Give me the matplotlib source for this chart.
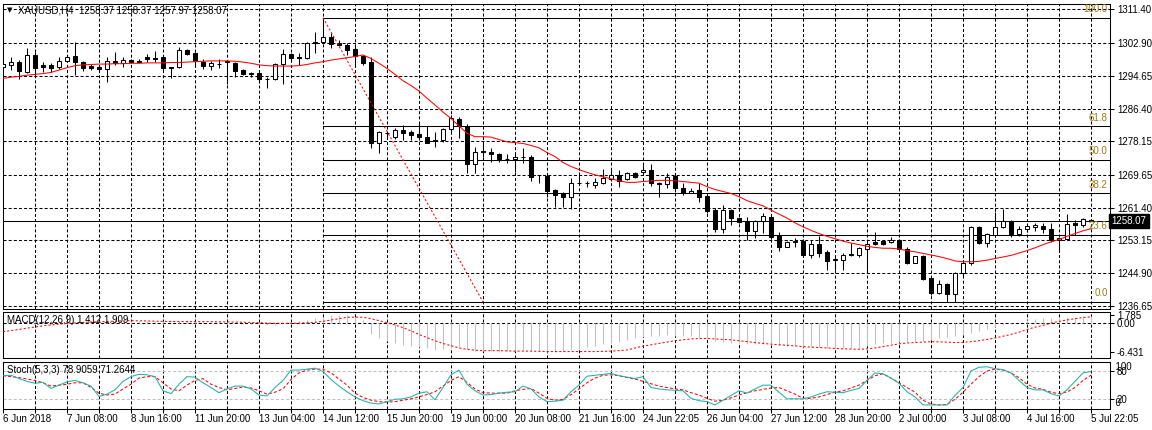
import matplotlib
matplotlib.use("Agg")
import matplotlib.pyplot as plt
from matplotlib.patches import Rectangle
import matplotlib.transforms as mtransforms

# ---------------- data ----------------
symbol_title = "XAUUSD,H4  1258.37 1258.37 1257.97 1258.07"
macd_title = "MACD(12,26,9) 1.412 1.909"
stoch_title = "Stoch(5,3,3) 78.9059 71.2644"

x_labels = ["6 Jun 2018", "7 Jun 08:00", "8 Jun 16:00", "11 Jun 20:00", "13 Jun 04:00",
            "14 Jun 12:00", "15 Jun 20:00", "19 Jun 00:00", "20 Jun 08:00", "21 Jun 16:00",
            "24 Jun 22:05", "26 Jun 04:00", "27 Jun 12:00", "28 Jun 20:00", "2 Jul 00:00",
            "3 Jul 08:00", "4 Jul 16:00", "5 Jul 22:05"]

price_ticks = [1311.40, 1302.90, 1294.65, 1286.40, 1278.15, 1269.65, 1261.40, 1253.15, 1244.90, 1236.65]

opens = [1296.9, 1297.3, 1298.1, 1295.7, 1300.0, 1297.3, 1297.4, 1296.8, 1298.5, 1299.6,
         1298.0, 1297.1, 1296.9, 1296.4, 1298.3, 1297.8, 1298.6, 1298.5, 1299.4, 1299.2,
         1299.4, 1296.9, 1296.8, 1301.1, 1300.3, 1298.2, 1297.2, 1297.7, 1298.3, 1297.8,
         1296.1, 1295.4, 1295.3, 1293.9, 1293.8, 1297.5, 1300.1, 1299.3, 1299.1, 1303.0,
         1303.1, 1304.3, 1303.0, 1302.4, 1301.4, 1299.6, 1298.1, 1277.6, 1280.3, 1279.1,
         1281.0, 1280.5, 1280.0, 1279.3, 1278.4, 1278.4, 1281.2, 1283.8, 1282.0, 1272.4,
         1275.6, 1275.5, 1274.9, 1273.8, 1273.8, 1274.3, 1274.3, 1269.6, 1269.4, 1265.9,
         1265.0, 1264.0, 1267.6, 1267.6, 1267.1, 1267.7, 1268.6, 1269.6, 1268.6, 1270.1,
         1270.3, 1270.8, 1267.6, 1267.3, 1269.4, 1266.3, 1265.2, 1265.9, 1264.4, 1260.8,
         1256.0, 1260.8, 1258.7, 1258.1, 1255.6, 1258.1, 1259.1, 1254.3, 1251.6, 1252.8,
         1252.9, 1249.5, 1252.3, 1250.3, 1248.3, 1248.2, 1249.7, 1249.5, 1251.0, 1252.7,
         1252.9, 1252.7, 1253.3, 1251.0, 1247.6, 1249.2, 1243.6, 1239.9, 1242.1, 1239.7,
         1245.0, 1247.55, 1256.6, 1252.6, 1254.5, 1256.6, 1258.1, 1254.7, 1256.0, 1256.5,
         1256.8, 1256.0, 1253.3, 1253.5, 1257.5, 1257.1, 1258.37]
highs = [1297.9, 1299.3, 1298.6, 1301.6, 1300.6, 1298.1, 1297.9, 1299.4, 1300.0, 1303.1,
         1298.4, 1297.5, 1297.4, 1299.5, 1300.6, 1299.3, 1298.9, 1298.8, 1300.1, 1300.9,
         1299.9, 1296.9, 1302.0, 1301.4, 1300.7, 1298.8, 1298.45, 1298.8, 1298.6, 1298.2,
         1296.3, 1295.7, 1295.9, 1294.4, 1297.8, 1301.3, 1300.3, 1300.3, 1303.1, 1305.6,
         1309.3, 1305.4, 1303.7, 1303.0, 1302.4, 1299.9, 1299.3, 1280.8, 1280.8, 1281.4,
         1282.3, 1281.0, 1282.8, 1282.0, 1280.6, 1281.4, 1284.7, 1284.2, 1282.5, 1276.8,
         1277.6, 1276.4, 1275.1, 1274.9, 1275.5, 1276.4, 1274.7, 1269.7, 1270.1, 1266.0,
         1265.4, 1268.8, 1270.5, 1268.2, 1268.8, 1271.1, 1270.9, 1270.9, 1270.5, 1270.3,
         1272.2, 1272.4, 1268.0, 1270.1, 1269.7, 1267.6, 1266.5, 1267.6, 1264.6, 1261.3,
         1262.1, 1261.0, 1259.1, 1259.1, 1258.3, 1260.0, 1259.3, 1255.4, 1253.1, 1253.7,
         1253.5, 1253.3, 1254.3, 1250.75, 1249.2, 1250.0, 1252.4, 1251.6, 1252.85, 1255.4,
         1253.3, 1254.1, 1253.45, 1251.6, 1249.3, 1249.5, 1243.8, 1243.2, 1242.4, 1245.3,
         1248.2, 1256.8, 1256.8, 1255.0, 1260.4, 1261.1, 1258.3, 1256.8, 1257.6, 1257.6,
         1257.6, 1257.5, 1253.7, 1259.8, 1258.3, 1258.75, 1258.37]
lows = [1296.4, 1296.1, 1293.8, 1295.3, 1294.9, 1295.7, 1295.7, 1296.3, 1298.2, 1294.9,
        1295.9, 1296.1, 1295.9, 1293.2, 1297.4, 1296.9, 1297.8, 1297.9, 1298.1, 1298.1,
        1296.1, 1294.0, 1296.5, 1299.9, 1296.9, 1296.4, 1296.1, 1296.5, 1292.7, 1294.4,
        1294.9, 1294.4, 1292.8, 1291.5, 1293.6, 1292.5, 1298.6, 1297.4, 1298.8, 1300.3,
        1303.1, 1301.6, 1302.2, 1299.9, 1297.2, 1297.4, 1276.5, 1275.3, 1278.7, 1278.7,
        1278.5, 1278.5, 1278.5, 1277.6, 1276.8, 1278.05, 1280.6, 1278.9, 1270.2, 1270.2,
        1274.3, 1273.0, 1273.0, 1272.8, 1270.3, 1272.6, 1268.2, 1267.6, 1264.2, 1261.7,
        1261.7, 1261.1, 1267.2, 1266.7, 1266.3, 1267.4, 1268.2, 1266.7, 1268.4, 1268.8,
        1269.9, 1266.9, 1264.2, 1266.3, 1265.4, 1264.6, 1265.0, 1262.9, 1260.0, 1255.4,
        1255.0, 1257.1, 1257.6, 1253.3, 1253.7, 1255.1, 1253.45, 1250.6, 1251.4, 1251.6,
        1249.5, 1248.7, 1249.1, 1245.7, 1245.7, 1245.7, 1249.2, 1248.9, 1245.3, 1252.0,
        1252.0, 1252.45, 1250.75, 1247.2, 1247.5, 1243.2, 1239.4, 1239.7, 1237.7, 1237.7,
        1243.9, 1247.0, 1252.25, 1251.6, 1254.1, 1256.2, 1254.1, 1254.3, 1255.4, 1255.6,
        1255.0, 1252.85, 1250.75, 1253.3, 1254.5, 1256.6, 1257.97]
closes = [1297.5, 1298.0, 1295.9, 1299.9, 1296.5, 1296.9, 1296.7, 1298.5, 1299.5, 1298.0,
          1296.5, 1296.5, 1296.3, 1298.3, 1297.8, 1298.6, 1298.2, 1298.2, 1298.9, 1298.9,
          1296.7, 1296.5, 1301.1, 1300.1, 1298.4, 1297.2, 1297.9, 1297.6, 1298.2, 1295.9,
          1295.1, 1295.2, 1293.8, 1293.8, 1297.5, 1300.1, 1299.1, 1299.2, 1302.8, 1303.1,
          1304.3, 1302.6, 1302.5, 1301.1, 1299.7, 1297.9, 1277.6, 1280.5, 1280.3, 1281.0,
          1280.2, 1279.8, 1279.1, 1277.8, 1278.3, 1281.2, 1283.9, 1282.0, 1272.4, 1275.5,
          1275.5, 1274.9, 1273.7, 1273.7, 1274.2, 1274.2, 1269.2, 1269.6, 1265.7, 1264.6,
          1264.0, 1267.6, 1267.7, 1267.7, 1268.0, 1268.8, 1269.6, 1268.2, 1270.1, 1269.1,
          1270.8, 1267.6, 1267.5, 1269.2, 1266.3, 1265.0, 1265.7, 1264.2, 1260.6, 1256.0,
          1260.8, 1258.7, 1257.9, 1255.6, 1258.1, 1259.3, 1254.1, 1251.6, 1252.8, 1252.9,
          1249.5, 1252.3, 1250.1, 1248.1, 1248.4, 1249.5, 1249.4, 1251.2, 1252.3, 1252.3,
          1252.3, 1253.3, 1250.9, 1247.6, 1249.25, 1243.5, 1239.9, 1242.1, 1239.7, 1245.0,
          1247.55, 1256.6, 1252.6, 1254.7, 1256.6, 1258.1, 1254.7, 1256.0, 1256.8, 1257.1,
          1256.0, 1253.3, 1253.7, 1257.3, 1257.1, 1258.5, 1258.07]

ma = [1294.0, 1294.3, 1294.5, 1294.8, 1295.0, 1295.2, 1295.5, 1296.1, 1296.7, 1297.2,
      1297.4, 1297.5, 1297.6, 1297.6, 1297.7, 1297.7, 1297.8, 1297.8, 1297.9, 1297.9,
      1297.9, 1298.0, 1298.0, 1298.1, 1298.2, 1298.3, 1298.4, 1298.4, 1298.4, 1298.3,
      1298.1, 1297.8, 1297.4, 1297.2, 1297.1, 1297.1, 1297.1, 1297.2, 1297.5, 1297.9,
      1298.2, 1298.6, 1298.9, 1299.2, 1299.5, 1299.9, 1299.0, 1297.8, 1296.5, 1295.0,
      1293.4, 1292.2, 1290.8, 1289.0, 1287.3, 1285.5, 1283.9, 1282.0, 1280.2, 1279.3,
      1279.3, 1279.2, 1278.6, 1278.0, 1277.8, 1277.6, 1277.1, 1276.5, 1275.3, 1274.3,
      1272.8, 1271.8, 1271.0, 1270.3, 1269.7, 1269.2, 1268.7, 1268.2, 1267.8, 1267.8,
      1268.0, 1268.2, 1268.3, 1268.3, 1268.2, 1268.0, 1267.8, 1267.6, 1266.7, 1266.0,
      1265.5, 1265.0, 1264.2, 1263.2, 1262.5, 1261.9, 1260.8, 1259.8, 1258.8, 1257.6,
      1256.6, 1255.7, 1254.9, 1254.2, 1253.6, 1253.0, 1252.5, 1252.1, 1251.7, 1251.4,
      1251.2, 1251.2, 1251.0, 1250.6, 1250.3, 1249.9, 1249.5, 1249.1, 1248.6, 1248.0,
      1247.8, 1247.8, 1247.9, 1248.2, 1248.6, 1249.0, 1249.4, 1250.0, 1250.6, 1251.3,
      1252.1, 1252.8, 1253.4, 1254.2, 1254.9, 1255.6, 1256.1]

bid = 1258.07
fib_start_bar, fib_end_bar = 40, 60
fib_high, fib_low = 1309.3, 1237.66
fib_levels = [0.0, 23.6, 38.2, 50.0, 61.8, 100.0]
fib_labels = ["0.0", "23.6", "38.2", "50.0", "61.8", "100.0"]

macd_main = [0.1, 0.2, 0.2, 0.4, 0.5, 0.4, 0.3, 0.3, 0.4, 0.4, 0.3, 0.2, 0.2, 0.2, 0.2, 0.2,
             0.3, 0.3, 0.4, 0.4, 0.3, 0.2, 0.4, 0.5, 0.4, 0.3, 0.2, 0.1, 0.0, -0.1, -0.2, -0.3,
             -0.5, -0.6, -0.4, -0.1, 0.2, 0.3, 0.7, 1.0, 1.3, 1.7, 1.785, 1.6, 1.3, 0.6,
             -2.4, -3.4, -4.0, -4.4, -4.9, -5.2, -5.3, -5.7, -6.0, -5.9,
             -5.6, -5.4, -5.9, -6.2, -6.3, -6.35, -6.4, -6.3, -6.2, -6.0, -6.1, -6.2, -6.4, -6.431, -6.3,
             -6.0, -5.7, -5.4, -5.1, -4.8, -4.5, -4.2, -3.9, -3.5, -3.2, -3.0, -2.9, -2.8, -2.9, -3.0, -3.0, -3.3,
             -3.7, -4.1, -4.2, -4.4, -4.5, -4.7, -4.7, -4.8, -4.9, -5.0, -5.1, -5.2, -5.3, -5.4, -5.5, -5.6, -5.7, -5.7, -5.7, -5.6,
             -5.2, -4.8, -4.5, -4.4, -4.3, -4.2, -4.2, -4.1, -3.8, -3.5, -3.2, -3.0, -2.7, -2.3, -1.9, -1.5,
             -1.0, -0.6, -0.2, 0.2, 0.5, 0.8, 1.0, 1.1, 1.1, 1.2, 1.3, 1.4, 1.412]
macd_signal = [-2.0, -1.75, -1.5, -1.2, -0.95, -0.7, -0.5, -0.3, -0.15, -0.05, 0.05, 0.15, 0.2, 0.28, 0.35, 0.4, 0.45,
               0.42, 0.38, 0.33, 0.3, 0.27, 0.25, 0.25, 0.25, 0.25, 0.23, 0.2, 0.18, 0.15, 0.1, 0.05, 0.0,
               -0.1, -0.12, -0.15, -0.12, -0.1, -0.02, 0.1, 0.3,
               0.6, 0.9, 1.2, 1.25, 1.2, 0.9, 0.45, 0.0, -0.5,
               -1.1, -1.8, -2.6, -3.3, -4.0, -4.6, -5.1, -5.6, -5.9,
               -6.1, -6.2, -6.2, -6.2, -6.25, -6.3, -6.3, -6.3, -6.35, -6.4, -6.4, -6.4, -6.4, -6.4, -6.4, -6.4, -6.35, -6.3, -6.2, -6.05,
               -5.6, -5.2, -4.9, -4.6, -4.3, -4.0, -3.8, -3.6, -3.5, -3.5, -3.6, -3.7,
               -3.8, -4.0, -4.2, -4.4, -4.6, -4.75, -4.9, -5.0, -5.15, -5.3, -5.4, -5.5, -5.6, -5.7, -5.8, -5.85, -5.9,
               -5.8, -5.6, -5.3, -5.0, -4.7, -4.5, -4.4, -4.3, -4.2, -4.25, -4.3, -4.4, -4.35, -4.2, -4.0, -3.7,
               -3.4, -3.0, -2.6, -2.1, -1.5, -1.0, -0.6, -0.1, 0.3, 0.6, 0.9, 1.15, 1.3]
macd_ticks = [1.785, 0.0, -6.431]
macd_tick_labels = ["1.785", "0.00", "-6.431"]

stoch_main = [70, 71, 64, 58, 54, 56, 43, 50, 57, 60, 55, 48, 26, 31, 40, 58, 68, 73, 72, 68,
              38, 32, 52, 68, 67, 55, 45, 34, 42, 48, 48, 42, 29, 27, 45, 60, 82, 82, 84, 86,
              79, 62, 48, 36, 25, 17, 12, 10, 15, 20, 21, 25, 33, 36, 19, 45, 72, 82, 52, 38,
              29, 30, 33, 35, 36, 48, 42, 25, 15, 16, 18, 36, 50, 69, 71, 73, 75, 70, 67, 64,
              68, 45, 42, 40, 39, 38, 22, 17, 15, 8, 18, 28, 38, 33, 42, 50, 50, 35, 21, 21,
              21, 25, 31, 36, 35, 34, 39, 43, 60, 76, 74, 65, 54, 36, 25, 8, 8, 8, 8, 28,
              45, 80, 88, 89, 85, 83, 76, 60, 45, 40, 40, 32, 27, 40, 58, 76, 78.9059]
stoch_signal = [70, 68, 66, 63, 60, 55, 48, 50, 52, 55, 55, 45, 33, 29, 31, 42, 52, 65, 68, 68,
                55, 42, 38, 50, 60, 64, 52, 45, 40, 43, 46, 44, 38, 31, 35, 42, 62, 76, 82, 84,
                84, 76, 63, 50, 33, 24, 18, 15, 14, 15, 18, 21, 25, 30, 36, 48, 60, 68, 56, 42,
                34, 33, 33, 33, 38, 41, 43, 33, 22, 18, 20, 30, 42, 55, 65, 71, 72, 70, 66, 63,
                58, 53, 48, 45, 42, 40, 34, 29, 22, 16, 18, 23, 29, 34, 38, 41, 44, 45, 38, 31,
                22, 22, 25, 30, 35, 38, 44, 50, 60, 70, 74, 65, 55, 45, 35, 18, 10, 8, 9, 20,
                35, 52, 68, 80, 84, 82, 76, 66, 52, 44, 41, 35, 32, 35.5, 45, 60, 71.2644]
stoch_levels = [20, 80]

# ---------------- layout ----------------
W, H = 1152, 430
FONT = ["Liberation Sans", "DejaVu Sans"]
plt.rcParams["font.family"] = FONT
plt.rcParams["font.size"] = 7
plt.rcParams["lines.scale_dashes"] = False

fig = plt.figure(figsize=(W / 100, H / 100), dpi=100)
fig.patch.set_facecolor("white")


def rect(x0, y0, x1, y1):
    return [x0 / W, 1 - y1 / H, (x1 - x0) / W, (y1 - y0) / H]


XL, XR = 2.5, 1110.0
ax = fig.add_axes(rect(XL, 3.5, XR, 308.5))
axm = fig.add_axes(rect(XL, 311.5, XR, 358.0))
axs = fig.add_axes(rect(XL, 361.6, XR, 408.7))

n = len(closes)
xs = list(range(n))
px_per_bar = 8.0
x0_px = 3.0
xlim = ((XL - x0_px) / px_per_bar, (XR - x0_px) / px_per_bar)

LW = 0.75
DASH = (0, (2.2, 1.5))

for a in (ax, axm, axs):
    a.set_xlim(*xlim)
    a.set_facecolor("white")
    for s in a.spines.values():
        s.set_linewidth(LW)
        s.set_color("black")
    a.tick_params(axis="y", which="both", left=False, right=True, labelleft=False,
                  labelright=True, length=3, width=LW, pad=2, labelsize=7, colors="black")
    a.tick_params(axis="x", which="both", bottom=False, top=False, labelbottom=False)
    for g in range(4, n + 2, 4):
        a.axvline(g, color="black", lw=LW, ls=DASH, zorder=0.5)

# main price axis scale
ppx = 3.969
y_top_px = 9.3
ax.set_ylim(1311.40 - (308.5 - y_top_px) / ppx, 1311.40 + (y_top_px - 3.5) / ppx)
ax.set_yticks(price_ticks)
ax.set_yticklabels([f"{p:.2f}" for p in price_ticks])
for p in price_ticks:
    ax.axhline(p, color="black", lw=LW, ls=DASH, zorder=0.5)

# candles
body_w = 0.62
for i in xs:
    o, h, l, c = opens[i], highs[i], lows[i], closes[i]
    ax.vlines(i, l, h, color="black", lw=LW, zorder=2)
    bot, top = min(o, c), max(o, c)
    fc = "white" if c >= o else "black"
    ax.add_patch(Rectangle((i - body_w / 2, bot), body_w, max(top - bot, 0.0001),
                           facecolor=fc, edgecolor="black", lw=LW, zorder=3))

# moving average
ax.plot(xs, ma, color="#ff0000", lw=LW, zorder=4)

# fibonacci
rng = fib_high - fib_low
for lev, lab in zip(fib_levels, fib_labels):
    yv = fib_low + rng * lev / 100.0
    ax.plot([fib_start_bar, xlim[1]], [yv, yv], color="black", lw=LW, zorder=2.5)
    ax.text(xlim[1] - 0.3, yv + 0.9, lab, ha="right", va="bottom", fontsize=7,
            color="#9c7a14", zorder=6)
ax.plot([fib_start_bar, fib_end_bar], [fib_high, fib_low], color="#ff0000", lw=LW,
        ls=(0, (1.5, 1.5)), zorder=4)

# bid line
ax.axhline(bid, color="black", lw=LW, zorder=2.5)
trans = mtransforms.blended_transform_factory(fig.transFigure, ax.transData)
ax.text(1111.5 / W, bid, f"{bid:.2f}", transform=trans, ha="left", va="center",
        color="white", fontsize=7, zorder=10, clip_on=False,
        bbox=dict(boxstyle="square,pad=0.25", facecolor="black", edgecolor="black"))

fig.text(10 / W, 1 - 10.5 / H, "\u25bc", fontsize=5, family="DejaVu Sans", ha="center", va="center")
fig.text(18 / W, 1 - 10.5 / H, symbol_title, fontsize=7, ha="left", va="center")

# MACD panel
mz, mscale = 322.7, 4.509
axm.set_ylim(-(358.0 - mz) / mscale, (mz - 311.5) / mscale)
axm.vlines(xs, 0, macd_main, color="#c0c0c0", lw=LW, zorder=1)
axm.plot(xs, macd_signal, color="#ff0000", lw=LW, ls=(0, (1.5, 1.5)), zorder=3)
axm.axhline(0, color="black", lw=LW, ls=DASH, zorder=0.6)
axm.set_yticks(macd_ticks)
axm.set_yticklabels(macd_tick_labels)
fig.text(7 / W, 1 - 320 / H, macd_title, fontsize=7, ha="left", va="center")

# Stochastic panel
axs.set_ylim(0, 100)
axs.plot(xs, stoch_signal, color="#ff0000", lw=LW, ls=(0, (2.2, 1.5)), zorder=3)
axs.plot(xs, stoch_main, color="#20b2aa", lw=LW, zorder=4)
for lv in stoch_levels:
    axs.axhline(lv, color="#c0c0c0", lw=LW, ls=DASH, zorder=0.6)
axs.set_yticks(stoch_levels)
axs.set_yticklabels([str(v) for v in stoch_levels])
btr = mtransforms.blended_transform_factory(axs.transAxes, axs.transData)
axs.text(1.0, 89.5, "  100", transform=btr, ha="left", va="center", fontsize=7)
axs.text(1.0, 11.5, "  0", transform=btr, ha="left", va="center", fontsize=7)
fig.text(7 / W, 1 - 370 / H, stoch_title, fontsize=7, ha="left", va="center")

# x ticks / labels
axs.set_xticks(list(range(0, n + 1, 4)))
axs.tick_params(axis="x", bottom=True, length=3, width=LW, direction="out", pad=1)
xt_labels = []
for k in range(0, n + 1, 4):
    xt_labels.append(x_labels[k // 8] if k % 8 == 0 and k // 8 < len(x_labels) else "")
axs.set_xticklabels(xt_labels, ha="left", fontsize=7)
axs.tick_params(axis="x", labelbottom=True)

fig.savefig("out.png", dpi=100)
